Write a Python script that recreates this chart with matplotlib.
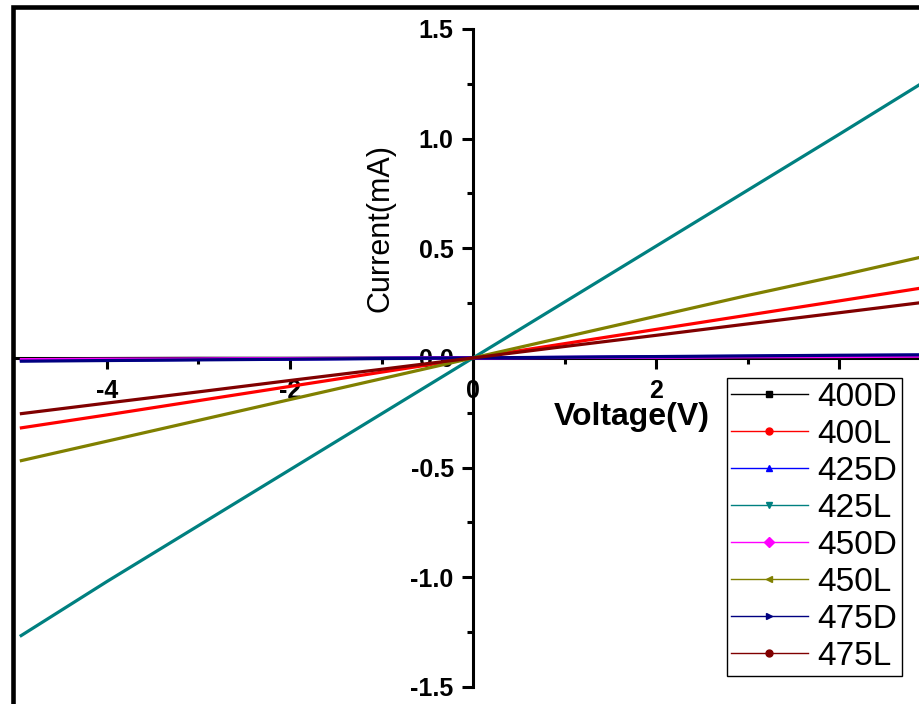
import matplotlib
matplotlib.use('Agg')
import matplotlib.pyplot as plt
from matplotlib.lines import Line2D
from matplotlib.patches import Rectangle

plt.rcParams['font.family'] = ['Liberation Sans', 'DejaVu Sans']
plt.rcParams['axes.unicode_minus'] = False

# voltage sweep (V)
voltage = [-4.95, -4, -3, -2, -1, 0, 1, 2, 3, 4, 4.95]

# currents (mA)
i_400D = [-0.004, -0.003, -0.002, -0.002, -0.001, 0, 0.001, 0.002, 0.002, 0.003, 0.004]
i_400L = [-0.32, -0.26, -0.195, -0.13, -0.065, 0, 0.065, 0.13, 0.195, 0.26, 0.322]
i_425D = [-0.012, -0.010, -0.007, -0.005, -0.002, 0, 0.002, 0.005, 0.007, 0.010, 0.012]
i_425L = [-1.27, -1.02, -0.765, -0.51, -0.255, 0, 0.255, 0.51, 0.765, 1.02, 1.265]
i_450D = [-0.008, -0.006, -0.005, -0.003, -0.002, 0, 0.002, 0.003, 0.005, 0.006, 0.008]
i_450L = [-0.47, -0.38, -0.285, -0.19, -0.095, 0, 0.095, 0.19, 0.285, 0.375, 0.465]
i_475D = [-0.015, -0.012, -0.009, -0.006, -0.003, 0, 0.003, 0.006, 0.009, 0.012, 0.014]
i_475L = [-0.255, -0.206, -0.155, -0.103, -0.052, 0, 0.052, 0.103, 0.155, 0.206, 0.255]

labels = ['400D', '400L', '425D', '425L', '450D', '450L', '475D', '475L']
currents = [i_400D, i_400L, i_425D, i_425L, i_450D, i_450L, i_475D, i_475L]
colors = ['#000000', '#ff0000', '#0000ff', '#008080', '#ff00ff', '#808000', '#000080', '#800000']
markers = ['s', 'o', '^', 'v', 'D', '<', '>', 'o']

W, H = 919, 704
fig = plt.figure(figsize=(W / 100, H / 100), dpi=100)
# axes box in pixels: left 12.5, right 933.7, top 7, bottom 705.5
ax = fig.add_axes([12.5 / W, (H - 705.5) / H, 921.2 / W, 698.5 / H])

for y, c in zip(currents, colors):
    ax.plot(voltage, y, color=c, lw=2.3, zorder=3, solid_capstyle='butt')

ax.set_xlim(-5.03, 5.03)
ax.set_ylim(-1.585, 1.60)

# axes crossing at the origin
ax.spines['left'].set_position(('data', 0))
ax.spines['bottom'].set_position(('data', 0))
ax.spines['left'].set_bounds(-1.5, 1.5)
ax.spines['left'].set_linewidth(2.2)
ax.spines['bottom'].set_linewidth(2.2)
ax.spines['top'].set_visible(False)
ax.spines['right'].set_visible(False)
# outer frame
ax.add_patch(Rectangle((0, 0), 1, 1, transform=ax.transAxes, fill=False,
                       lw=3.3, ec='black', clip_on=False, zorder=5))

ax.set_xticks([-4, -2, 0, 2, 4])
ax.set_xticks([-3, -1, 1, 3], minor=True)
ax.set_xticklabels(['-4', '-2', '0', '2', ''])  # the "4" sits under the legend
ax.set_yticks([-1.5, -1.0, -0.5, 0.0, 0.5, 1.0, 1.5])
ax.set_yticks([-1.25, -0.75, -0.25, 0.25, 0.75, 1.25], minor=True)
ax.set_yticklabels(['-1.5', '-1.0', '-0.5', '0.0', '0.5', '1.0', '1.5'])
ax.tick_params(which='major', direction='out', length=8, width=2.2)
ax.tick_params(which='minor', direction='out', length=4, width=2.2)
ax.tick_params(axis='x', which='major', pad=7)
ax.tick_params(axis='y', which='major', pad=6)
for t in ax.get_xticklabels() + ax.get_yticklabels():
    t.set_fontsize(18)
    t.set_fontweight('bold')

ax.set_xlabel('Voltage(V)', fontsize=23, fontweight='bold', ha='center', va='top')
ax.xaxis.set_label_coords((632 - 12.5) / 921.2, (705.5 - 402) / 698.5)
ax.set_ylabel('Current(mA)', fontsize=22)
ax.yaxis.set_label_coords((396 - 12.5) / 921.2, (705.5 - 228) / 698.5)

handles = [Line2D([], [], color=c, lw=1.0, marker=m, markersize=5)
           for c, m in zip(colors, markers)]
leg = fig.legend(handles, labels, loc='upper left',
                 bbox_to_anchor=(727 / W, 1 - 378 / H), bbox_transform=fig.transFigure,
                 fontsize=24, frameon=True, fancybox=False, framealpha=1,
                 edgecolor='black', borderaxespad=0, borderpad=0.12,
                 handlelength=2.3, handletextpad=0.3, labelspacing=0.18)
leg.get_frame().set_linewidth(1.0)

fig.savefig('out.png', dpi=100)
